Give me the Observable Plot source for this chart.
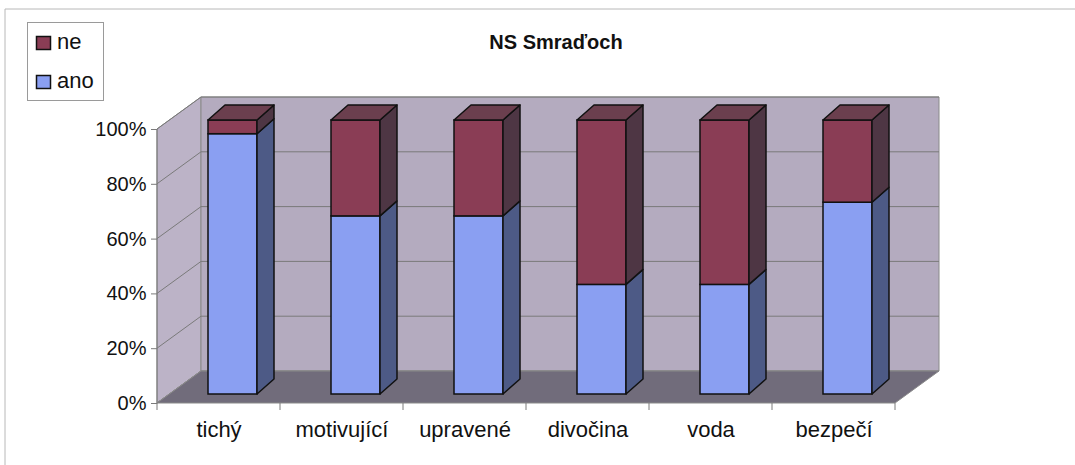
<!DOCTYPE html>
<html><head><meta charset="utf-8">
<script src="https://cdn.jsdelivr.net/npm/d3@7"></script>
<script src="https://cdn.jsdelivr.net/npm/@observablehq/plot@0.6"></script>
<style>body{margin:0;background:#fff}</style>
</head><body><div id="chart"></div>
<script>
// ---- data ----
const categories = ["tichý", "motivující", "upravené", "divočina", "voda", "bezpečí"];
const series = ["ano", "ne"];
const ano = [95, 65, 65, 40, 40, 70];
const ne = [5, 35, 35, 60, 60, 30];
const yTicks = [0, 20, 40, 60, 80, 100];
const title = "NS Smraďoch";

// ---- styles ----
const frontFill = {ano: "#8a9ff2", ne: "#8a3d55"};
const sideFill = {ano: "#4d5a86", ne: "#4e3644"};
const topFill = {ano: "#6d80c8", ne: "#6b3f4e"};
const WALL = {dx: 44, dy: -32};
const BAR = {dx: 14, dy: -9, w: 49, sdx: 17, sdy: -15};
const font = "'Liberation Sans', Arial, sans-serif";

const data = categories.flatMap((c, i) => [
  {category: c, series: "ano", value: ano[i]},
  {category: c, series: "ne", value: ne[i]}
]);

const pts = a => a.map(p => p.join(",")).join(" ");

function frameDecor(index, scales, values, dims) {
  const g = d3.create("svg:g");
  g.append("path").attr("d", `M5,${dims.height + 5}V9H${dims.width + 5}`)
    .attr("fill", "none").attr("stroke", "#b8b8b8");
  return g.node();
}

function walls(index, {x, y}, values, dims) {
  const step = x(categories[1]) - x(categories[0]);
  const x0 = x(categories[0]), x1 = x(categories[categories.length - 1]) + step;
  const yt = y(100), yb = y(0);
  const {dx, dy} = WALL;
  const g = d3.create("svg:g");
  g.append("polygon").attr("points", pts([[x0, yt], [x0 + dx, yt + dy], [x0 + dx, yb + dy], [x0, yb]]))
    .attr("fill", "#bcb3c7").attr("stroke", "#8a8a8a");
  g.append("polygon").attr("points", pts([[x0 + dx, yt + dy], [x1 + dx, yt + dy], [x1 + dx, yb + dy], [x0 + dx, yb + dy]]))
    .attr("fill", "#b4abbf").attr("stroke", "#8a8a8a");
  for (const v of yTicks) {
    g.append("line").attr("x1", x0).attr("y1", y(v)).attr("x2", x0 + dx).attr("y2", y(v) + dy).attr("stroke", "#7a7a7a");
    g.append("line").attr("x1", x0 + dx).attr("y1", y(v) + dy).attr("x2", x1 + dx).attr("y2", y(v) + dy).attr("stroke", "#7a7a7a");
  }
  g.append("polygon").attr("points", pts([[x0, yb], [x1, yb], [x1 + dx, yb + dy], [x0 + dx, yb + dy]]))
    .attr("fill", "#716c7b").attr("stroke", "#8a8a8a");
  for (let i = 0; i <= categories.length; i++) {
    const xe = x0 + i * step;
    g.append("line").attr("x1", xe).attr("x2", xe).attr("y1", yb).attr("y2", yb + 7).attr("stroke", "#7a7a7a");
  }
  g.append("line").attr("x1", x0).attr("x2", x0).attr("y1", yt).attr("y2", yb).attr("stroke", "#7a7a7a");
  return g.node();
}

function barDepth(index, {x, y}, values, dims) {
  const step = x(categories[1]) - x(categories[0]);
  const g = d3.create("svg:g").attr("stroke", "#111").attr("stroke-width", 1.5).attr("stroke-linejoin", "round");
  categories.forEach((c, i) => {
    const bx = x(c) + step / 2 + BAR.dx - BAR.w / 2;
    const xr = bx + BAR.w;
    const segs = [["ano", 0, ano[i]], ["ne", ano[i], ano[i] + ne[i]]];
    for (const [s, v1, v2] of segs) {
      const ya = y(v1) + BAR.dy, yb = y(v2) + BAR.dy;
      g.append("polygon").attr("points", pts([[xr, ya], [xr + BAR.sdx, ya + BAR.sdy], [xr + BAR.sdx, yb + BAR.sdy], [xr, yb]]))
        .attr("fill", sideFill[s]);
    }
    const [sTop, , vTop] = segs[segs.length - 1];
    const yt = y(vTop) + BAR.dy;
    g.append("polygon").attr("points", pts([[bx, yt], [xr, yt], [xr + BAR.sdx, yt + BAR.sdy], [bx + BAR.sdx, yt + BAR.sdy]]))
      .attr("fill", topFill[sTop]);
  });
  return g.node();
}

function legendAndTitle(index, scales, values, dims) {
  const g = d3.create("svg:g").style("font-family", font);
  g.append("rect").attr("x", 27.5).attr("y", 22.5).attr("width", 76).attr("height", 78)
    .attr("fill", "#fff").attr("stroke", "#9a9a9a");
  const items = ["ne", "ano"];
  items.forEach((s, k) => {
    const yy = 36 + k * 39;
    g.append("rect").attr("x", 36.5).attr("y", yy + 0.5).attr("width", 14).attr("height", 13)
      .attr("fill", scales.color ? scales.color(s) : frontFill[s]).attr("stroke", "#111").attr("stroke-width", 1.5);
    g.append("text").attr("x", 57).attr("y", yy + 13).attr("text-anchor", "start")
      .attr("font-size", 22).attr("fill", "#111").text(s);
  });
  g.append("text").attr("x", 556).attr("y", 49).attr("text-anchor", "middle")
    .attr("font-size", 20).attr("font-weight", "bold").attr("fill", "#111").text(title);
  return g.node();
}

const plot = Plot.plot({
  width: 1075,
  height: 465,
  marginLeft: 157,
  marginRight: 180,
  marginTop: 129,
  marginBottom: 62,
  style: {fontFamily: font, background: "#fff", overflow: "visible", color: "#111"},
  x: {domain: categories, padding: 0, label: null},
  y: {domain: [0, 100], label: null},
  color: {domain: series, range: series.map(s => frontFill[s])},
  marks: [
    frameDecor,
    walls,
    Plot.barY(data, Plot.stackY({
      x: "category", y: "value", fill: "series", order: series,
      stroke: "#111", strokeWidth: 1.5,
      insetLeft: (123 - BAR.w) / 2 + BAR.dx, insetRight: (123 - BAR.w) / 2 - BAR.dx,
      dy: BAR.dy
    })),
    barDepth,
    Plot.axisY({ticks: yTicks, tickFormat: d => d + "%", fontSize: 20, tickSize: 6, tickPadding: 5, stroke: "#7a7a7a", fill: "#111", label: null}),
    Plot.axisX({tickSize: 0, tickPadding: 18, fontSize: 22, fill: "#111", label: null}),
    legendAndTitle
  ]
});
document.getElementById("chart").appendChild(plot);
</script>
</body></html>
